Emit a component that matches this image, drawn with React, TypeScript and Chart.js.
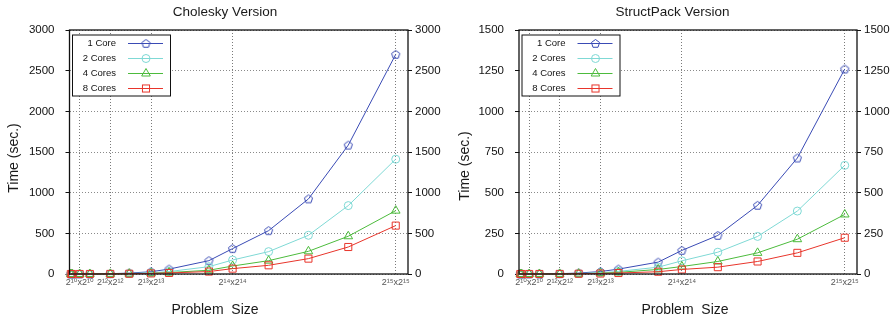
import React, { useEffect, useRef } from 'react';
import { Chart, registerables } from 'chart.js';

Chart.register(...registerables);

const FONT = '"Liberation Sans", Arial, Helvetica, "DejaVu Sans", sans-serif';

// Problem sizes (N for an N x N problem)
const problemSizes = [128, 256, 1024, 2048, 4096, 6000, 8192, 10000, 14000, 16384, 20000, 24000, 28000, 32768];
const xTickValues = [1024, 4096, 8192, 16384, 32768];
const xTickLabels = ['2¹⁰x2¹⁰', '2¹²x2¹²', '2¹³x2¹³', '2¹⁴x2¹⁴', '2¹⁵x2¹⁵'];
const seriesNames = ['1 Core', '2 Cores', '4 Cores', '8 Cores'];
const seriesColors = ['#3a4bb5', '#7fd9d5', '#4cbb3c', '#e8352b'];

// Cholesky version (seconds)
const cholesky1 = [0, 0, 0.1, 0.6, 4, 11, 28, 60, 164, 312, 533, 923, 1584, 2700];
const cholesky2 = [0, 0, 0.1, 0.4, 2, 6, 15, 30, 90, 172, 275, 476, 841, 1412];
const cholesky4 = [0, 0, 0, 0.2, 1.5, 4, 9, 18, 46, 98, 164, 279, 464, 779];
const cholesky8 = [0, 0, 0, 0.2, 1, 3, 7, 13, 30, 66, 107, 189, 332, 595];

// StructPack version (seconds)
const structpack1 = [0, 0, 0, 0.3, 2, 6, 15, 30, 73, 145, 237, 422, 713, 1260];
const structpack2 = [0, 0, 0, 0.2, 1, 3, 8, 16, 42, 81, 134, 231, 387, 668];
const structpack4 = [0, 0, 0, 0.1, 0.6, 2, 5, 10, 28, 46, 77, 130, 214, 366];
const structpack8 = [0, 0, 0, 0.1, 0.4, 1.5, 3, 6, 14, 28, 42, 77, 130, 223];

const xMax = 34000;

function makePentagon(color: string): HTMLCanvasElement {
  const c = document.createElement('canvas');
  c.width = 11;
  c.height = 11;
  const g = c.getContext('2d')!;
  g.strokeStyle = color;
  g.lineWidth = 1;
  g.beginPath();
  for (let k = 0; k < 5; k++) {
    const ang = -Math.PI / 2 + (k * 2 * Math.PI) / 5;
    const px = 5.5 + 4.3 * Math.cos(ang);
    const py = 5.8 + 4.3 * Math.sin(ang);
    if (k === 0) g.moveTo(px, py);
    else g.lineTo(px, py);
  }
  g.closePath();
  g.stroke();
  return c;
}

function drawMarker(ctx: CanvasRenderingContext2D, style: any, color: string, r: number, x: number, y: number) {
  ctx.save();
  ctx.strokeStyle = color;
  ctx.lineWidth = 1;
  if (style instanceof HTMLCanvasElement) {
    ctx.drawImage(style, x - style.width / 2, y - style.height / 2);
  } else if (style === 'circle') {
    ctx.beginPath();
    ctx.arc(x, y, r, 0, Math.PI * 2);
    ctx.stroke();
  } else if (style === 'triangle') {
    ctx.beginPath();
    for (let k = 0; k < 3; k++) {
      const ang = -Math.PI / 2 + (k * 2 * Math.PI) / 3;
      const px = x + r * Math.cos(ang);
      const py = y + r * Math.sin(ang);
      if (k === 0) ctx.moveTo(px, py);
      else ctx.lineTo(px, py);
    }
    ctx.closePath();
    ctx.stroke();
  } else if (style === 'rect') {
    const s = Math.SQRT1_2 * r;
    ctx.strokeRect(x - s, y - s, 2 * s, 2 * s);
  }
  ctx.restore();
}

const decorPlugin = {
  id: 'decor',
  afterDraw(chart: any, _args: any, opts: any) {
    const { ctx, chartArea: a } = chart;
    ctx.save();
    // plot frame
    ctx.strokeStyle = '#111';
    ctx.lineWidth = 1.3;
    ctx.strokeRect(a.left, a.top, a.right - a.left, a.bottom - a.top);
    // axis titles
    ctx.fillStyle = '#1a1a1a';
    ctx.font = `14px ${FONT}`;
    ctx.textAlign = 'center';
    ctx.textBaseline = 'middle';
    ctx.fillText(opts.xTitle, opts.xTitleX, opts.xTitleY);
    ctx.save();
    ctx.translate(opts.yTitleX, opts.yTitleY);
    ctx.rotate(-Math.PI / 2);
    ctx.fillText(opts.yTitle, 0, 0);
    ctx.restore();
    // legend box
    const bx = a.left + 3;
    const by = 35;
    ctx.fillStyle = '#fff';
    ctx.fillRect(bx, by, 98, 61);
    ctx.strokeStyle = '#111';
    ctx.lineWidth = 1;
    ctx.strokeRect(bx, by, 98, 61);
    ctx.font = `9.5px ${FONT}`;
    ctx.textAlign = 'right';
    ctx.fillStyle = '#111';
    chart.data.datasets.forEach((ds: any, i: number) => {
      const y = by + 8.5 + i * 15;
      ctx.fillText(ds.label, a.left + 46.5, y);
      ctx.strokeStyle = ds.borderColor;
      ctx.lineWidth = 1;
      ctx.beginPath();
      ctx.moveTo(a.left + 58.5, y);
      ctx.lineTo(a.left + 93.5, y);
      ctx.stroke();
      drawMarker(ctx, ds.pointStyle, ds.borderColor, ds.pointRadius, a.left + 76.5, y);
    });
    ctx.restore();
  },
};

type PanelSpec = {
  title: string;
  series: number[][];
  yMax: number;
  yStep: number;
  leftAxisWidth: number;
  rightAxisWidth: number;
  xTitleX: number;
  yTitleX: number;
  yTitleY: number;
};

function buildConfig(p: PanelSpec): any {
  const styles: any[] = [makePentagon(seriesColors[0]), 'circle', 'triangle', 'rect'];
  const radii = [4.5, 4, 5, 5];
  const datasets = p.series.map((vals, i) => ({
    label: seriesNames[i],
    data: problemSizes.map((x, j) => ({ x, y: vals[j] })),
    borderColor: seriesColors[i],
    backgroundColor: 'rgba(0,0,0,0)',
    pointBackgroundColor: 'rgba(0,0,0,0)',
    pointBorderColor: seriesColors[i],
    pointBorderWidth: 1,
    pointStyle: styles[i],
    pointRadius: radii[i],
    borderWidth: 1,
    tension: 0,
    clip: false,
    order: 4 - i,
  }));
  const yTicks = {
    stepSize: p.yStep,
    color: '#111',
    font: { size: 11.5, family: FONT },
    callback: (v: number) => String(v),
  };
  return {
    type: 'line',
    data: { datasets },
    plugins: [decorPlugin],
    options: {
      animation: false,
      responsive: false,
      events: [],
      layout: { padding: 0 },
      plugins: {
        legend: { display: false },
        tooltip: { enabled: false },
        title: {
          display: true,
          text: p.title,
          color: '#1a1a1a',
          font: { size: 13.5, family: FONT, weight: 'normal' },
          padding: { top: 4, bottom: 9.8 },
        },
        decor: {
          xTitle: 'Problem  Size',
          xTitleX: p.xTitleX,
          xTitleY: 310,
          yTitle: 'Time (sec.)',
          yTitleX: p.yTitleX,
          yTitleY: p.yTitleY,
        },
      },
      scales: {
        x: {
          type: 'linear',
          min: 0,
          max: xMax,
          afterBuildTicks: (scale: any) => {
            scale.ticks = xTickValues.map((v) => ({ value: v }));
          },
          afterFit: (scale: any) => {
            scale.height = 48;
          },
          ticks: {
            autoSkip: false,
            maxRotation: 0,
            padding: 3,
            color: '#555',
            font: { size: 9, family: FONT },
            callback: (v: number) => {
              const k = xTickValues.indexOf(v);
              return k >= 0 ? xTickLabels[k] : '';
            },
          },
          grid: { color: '#7a7a7a', drawTicks: false },
          border: { display: false, dash: [1, 2] },
        },
        y: {
          type: 'linear',
          position: 'left',
          min: 0,
          max: p.yMax,
          afterFit: (scale: any) => {
            scale.width = p.leftAxisWidth;
          },
          ticks: { ...yTicks, padding: 11 },
          grid: { color: '#8a8a8a', tickLength: 4, tickColor: '#111' },
          border: { display: false, dash: [1, 2] },
        },
        y2: {
          type: 'linear',
          position: 'right',
          min: 0,
          max: p.yMax,
          afterFit: (scale: any) => {
            scale.width = p.rightAxisWidth;
          },
          ticks: { ...yTicks, padding: 3 },
          grid: { drawOnChartArea: false, tickLength: 4, tickColor: '#111' },
          border: { display: false },
        },
      },
    },
  };
}

function ChartPanel({ spec, width, height }: { spec: PanelSpec; width: number; height: number }) {
  const ref = useRef<HTMLCanvasElement>(null);
  useEffect(() => {
    const chart = new Chart(ref.current!, buildConfig(spec));
    return () => chart.destroy();
  }, []);
  return <canvas ref={ref} width={width} height={height} style={{ display: 'block', width, height }} />;
}

const leftSpec: PanelSpec = {
  title: 'Cholesky Version',
  series: [cholesky1, cholesky2, cholesky4, cholesky8],
  yMax: 3000,
  yStep: 500,
  leftAxisWidth: 69.5,
  rightAxisWidth: 42,
  xTitleX: 215,
  yTitleX: 14,
  yTitleY: 158,
};

const rightSpec: PanelSpec = {
  title: 'StructPack Version',
  series: [structpack1, structpack2, structpack4, structpack8],
  yMax: 1500,
  yStep: 250,
  leftAxisWidth: 69,
  rightAxisWidth: 38,
  xTitleX: 235,
  yTitleX: 15,
  yTitleY: 166,
};

export default function App() {
  return (
    <div style={{ position: 'fixed', left: 0, top: 0, width: 895, height: 322, background: '#fff' }}>
      <div style={{ position: 'absolute', left: 0, top: 0 }}>
        <ChartPanel spec={leftSpec} width={450} height={322} />
      </div>
      <div style={{ position: 'absolute', left: 450, top: 0 }}>
        <ChartPanel spec={rightSpec} width={445} height={322} />
      </div>
    </div>
  );
}
